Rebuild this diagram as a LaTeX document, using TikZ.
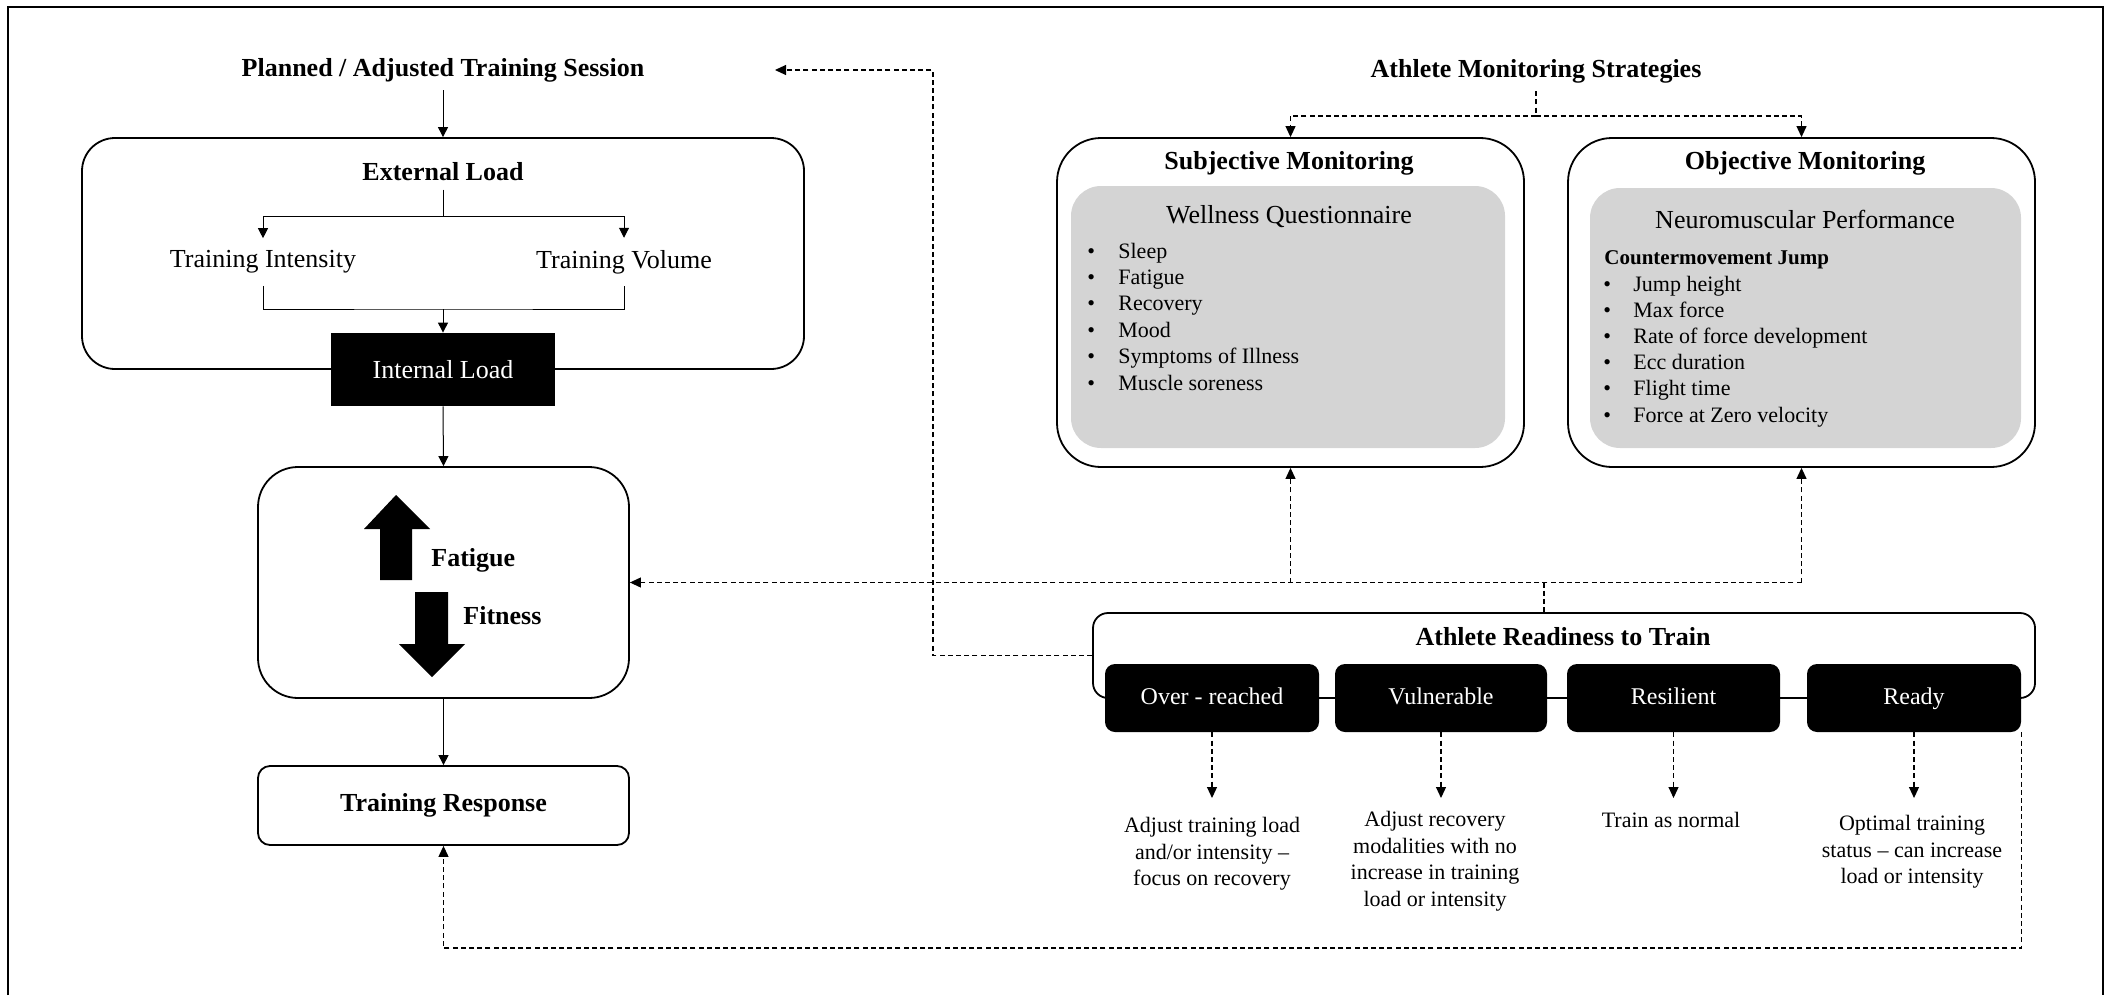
\documentclass[tikz,border=0pt]{standalone}
\usepackage{fontspec}
\setmainfont{Liberation Serif}
\usetikzlibrary{arrows.meta,calc}
\definecolor{panel}{RGB}{212,212,212}
\begin{document}
\begin{tikzpicture}[x=0.5pt, y=-0.5pt,
  hd/.style={font=\fontsize{13}{15.6}\selectfont\bfseries, inner sep=4pt},
  txt/.style={font=\fontsize{13}{15.6}\selectfont, inner sep=4pt},
  sm/.style={font=\fontsize{11}{13.25}\selectfont, align=center, inner sep=0pt, anchor=north},
  item/.style={font=\fontsize{11}{13}\selectfont, inner sep=0pt, anchor=base west},
  rbox/.style={draw, line width=0.9pt, rounded corners=#1, inner sep=0pt},
  graybox/.style={fill=panel, rounded corners=15pt, inner sep=0pt},
  blk/.style={fill=black, text=white, rounded corners=5pt, inner sep=0pt,
              minimum height=34pt, text height=8.5pt, text depth=2.5pt,
              font=\fontsize{12}{14}\selectfont},
  conn/.style={line width=0.5pt, -{Triangle[length=5pt,width=5pt]}},
  sline/.style={line width=0.5pt},
  dline/.style={line width=0.55pt, dash pattern=on 2.5pt off 1.6pt},
  darr/.style={dline, -{Triangle[length=5.5pt,width=5pt]}},
  bigarrow/.style={fill=black}
]
\useasboundingbox (0,0) rectangle (2112,995);

% outer frame (open at the bottom edge)
\draw[line width=1.1pt] (8,995) -- (8,7) -- (2103,7) -- (2103,995);

% ---------------- training process column ----------------
\node[hd] (plan) at (443,70) {Planned / Adjusted Training Session};
\node[rbox=16.5pt, minimum width=361pt, minimum height=115.5pt] (ext) at (443,253.5) {};
\node[hd] (extl) at (443,172) {External Load};
\node[txt, inner ysep=6pt] (ti) at (263,262) {Training Intensity};
\node[txt, inner ysep=6pt] (tv) at (624,262) {Training Volume};
\node[fill=black, text=white, inner sep=0pt, minimum width=112pt, minimum height=36.5pt,
      font=\fontsize{13}{15.6}\selectfont] (intl) at (443,369.5) {Internal Load};

\node[rbox=20pt, minimum width=185.5pt, minimum height=115.5pt] (ff) at (443.5,582.5) {};
\fill[bigarrow] (396,495) -- (430,529) -- (412,529) -- (412,580) -- (380,580) -- (380,529) -- (364,529) -- cycle;
\fill[bigarrow] (432,677) -- (465,644) -- (448,644) -- (448,592) -- (415,592) -- (415,644) -- (399,644) -- cycle;
\node[hd, anchor=west, inner sep=0pt] (fat) at (431,560) {Fatigue};
\node[hd, anchor=west, inner sep=0pt] (fit) at (463,616) {Fitness};

\node[hd, rbox=6pt, minimum width=185.5pt, minimum height=39.5pt] (tr) at (443.5,805.5) {Training Response};

\draw[conn] (plan.south) -- (ext.north);
\coordinate (sp1) at (443,216);
\draw[sline] (extl.south) -- (sp1);
\draw[conn] (sp1) -| (ti.north);
\draw[conn] (sp1) -| (tv.north);
\coordinate (jn1) at (443,309);
\draw[sline] (ti.south) |- (jn1) -| (tv.south);
\draw[conn] (jn1) -- (intl.north);
\draw[conn] (intl.south) -- (ff.north);
\draw[conn] (ff.south) -- (tr.north);

% ---------------- monitoring strategies ----------------
\node[hd] (ams) at (1536,71) {Athlete Monitoring Strategies};

\node[rbox=22pt, minimum width=233.5pt, minimum height=164.5pt] (subj) at (1290.5,302.5) {};
\node[graybox, minimum width=217pt, minimum height=131pt] (g1) at (1288,317) {};
\node[hd] (subjl) at (1289,163) {Subjective Monitoring};
\node[txt] (well) at (1289,217) {Wellness Questionnaire};
\foreach \t [count=\i] in {Sleep, Fatigue, Recovery, Mood, Symptoms of Illness, Muscle soreness}
  \node[item] (s\i) at (1087,{258+26.4*(\i-1)}) {\makebox[15.5pt][l]{\textbullet}\t};

\node[rbox=22pt, minimum width=233.5pt, minimum height=164.5pt] (obj) at (1801.5,302.5) {};
\node[graybox, minimum width=215.5pt, minimum height=130pt] (g2) at (1805.5,318) {};
\node[hd] (objl) at (1805,163) {Objective Monitoring};
\node[txt] (neuro) at (1805,219) {Neuromuscular Performance};
\node[item, font=\fontsize{10.5}{12}\selectfont\bfseries] (cmj) at (1604,264) {Countermovement Jump};
\foreach \t [count=\i] in {Jump height, Max force, Rate of force development, Ecc duration, Flight time, Force at Zero velocity}
  \node[item] (m\i) at (1603,{291+26.2*(\i-1)}) {\makebox[15pt][l]{\textbullet}\t};

\coordinate (sp2) at (1536,116);
\draw[dline] (ams.south) -- (sp2);
\draw[darr] (sp2) -| (subj.north);
\draw[darr] (sp2) -| (obj.north);

% ---------------- readiness ----------------
\node[rbox=7.5pt, minimum width=471pt, minimum height=42.5pt] (ready) at (1564,655.5) {};
\node[hd] (readyl) at (1563,637) {Athlete Readiness to Train};
\node[blk, minimum width=107pt] (c1) at (1212,698) {Over - reached};
\node[blk, minimum width=106pt] (c2) at (1441,698) {Vulnerable};
\node[blk, minimum width=106.5pt] (c3) at (1673.5,698) {Resilient};
\node[blk, minimum width=107pt] (c4) at (1914,698) {Ready};

\node[sm] (o1) at (1212,817) {Adjust training load\\and/or intensity –\\focus on recovery};
\node[sm] (o2) at (1435,811) {Adjust recovery\\modalities with no\\increase in training\\load or intensity};
\node[sm] (o3) at (1671,812) {Train as normal};
\node[sm] (o4) at (1912,815) {Optimal training\\status – can increase\\load or intensity};

\draw[darr, shorten >=9.5pt] (c1.south) -- (c1.south |- o1.north);
\draw[darr, shorten >=6.5pt] (c2.south) -- (c2.south |- o2.north);
\draw[darr, shorten >=7pt] (c3.south) -- (c3.south |- o3.north);
\draw[darr, shorten >=8.5pt] (c4.south) -- (c4.south |- o4.north);

% ---------------- feedback loops ----------------
\coordinate (hz) at (1801.5,582.5);
\draw[darr] (hz) -- (ff.east);
\draw[darr] (hz) -- (obj.south);
\draw[darr] (subj.south |- hz) -- (subj.south);
\coordinate (jn2) at (1544,582.5);
\draw[dline] (jn2) -- (jn2 |- ready.north);

\coordinate (tc) at (933,70);
\coordinate (tip) at (775,70);
\draw[darr] (ready.west) -| (tc) -- (tip);

\coordinate (fb) at (443.5,948);
\draw[darr] (c4.south east) |- (fb) -- (tr.south);
\end{tikzpicture}
\end{document}
